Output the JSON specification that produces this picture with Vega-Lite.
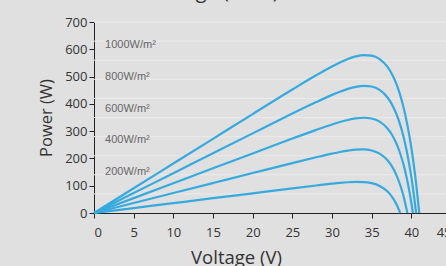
{
  "$schema": "https://vega.github.io/schema/vega-lite/v6.json",
  "width": 357,
  "height": 191,
  "autosize": {"type": "none"},
  "padding": {"left": 94, "top": 22, "right": 0, "bottom": 53},
  "background": "#e0e0e0",
  "title": {"text": "Power-Voltage (25°C)", "anchor": "start", "frame": "group", "dx": -11, "offset": 14, "font": "Open Sans", "fontSize": 20, "fontWeight": "normal", "color": "#333333"},
  "config": {
    "view": {"stroke": null},
    "axis": {
      "grid": false,
      "domainColor": "#222222",
      "tickColor": "#222222",
      "tickSize": 5,
      "labelFont": "Open Sans",
      "labelFontSize": 13,
      "labelColor": "#333333",
      "titleFont": "Open Sans",
      "titleFontWeight": "normal",
      "titleColor": "#333333"
    }
  },
  "datasets": {
    "grid": [{"p": 70}, {"p": 140}, {"p": 210}, {"p": 280}, {"p": 350}, {"p": 420}, {"p": 490}, {"p": 560}, {"p": 630}, {"p": 700}],
    "labels": [
      {"v": 1.4, "p": 615, "label": "1000W/m²"},
      {"v": 1.4, "p": 498, "label": "800W/m²"},
      {"v": 1.4, "p": 382, "label": "600W/m²"},
      {"v": 1.4, "p": 266, "label": "400W/m²"},
      {"v": 1.4, "p": 150, "label": "200W/m²"}
    ],
    "curves": [
      {"irr": 1000, "v": 0, "p": 0}, {"irr": 1000, "v": 5, "p": 90.7}, {"irr": 1000, "v": 10, "p": 181.3}, {"irr": 1000, "v": 15, "p": 271.9}, {"irr": 1000, "v": 20, "p": 362.5}, {"irr": 1000, "v": 25, "p": 452.5}, {"irr": 1000, "v": 28, "p": 504.8}, {"irr": 1000, "v": 30, "p": 537.2}, {"irr": 1000, "v": 31, "p": 551.7}, {"irr": 1000, "v": 32, "p": 564.3}, {"irr": 1000, "v": 33, "p": 573.9}, {"irr": 1000, "v": 34, "p": 578.9}, {"irr": 1000, "v": 35, "p": 577.0}, {"irr": 1000, "v": 36, "p": 564.3}, {"irr": 1000, "v": 37, "p": 535.4}, {"irr": 1000, "v": 37.5, "p": 512.2}, {"irr": 1000, "v": 38, "p": 481.4}, {"irr": 1000, "v": 38.5, "p": 441.2}, {"irr": 1000, "v": 39, "p": 389.4}, {"irr": 1000, "v": 39.5, "p": 323.1}, {"irr": 1000, "v": 40, "p": 239.1}, {"irr": 1000, "v": 40.5, "p": 133.1}, {"irr": 1000, "v": 41, "p": 0},
      {"irr": 800, "v": 0, "p": 0}, {"irr": 800, "v": 5, "p": 73.0}, {"irr": 800, "v": 10, "p": 145.9}, {"irr": 800, "v": 15, "p": 218.9}, {"irr": 800, "v": 20, "p": 291.8}, {"irr": 800, "v": 25, "p": 364.3}, {"irr": 800, "v": 28, "p": 406.6}, {"irr": 800, "v": 30, "p": 432.9}, {"irr": 800, "v": 31, "p": 444.7}, {"irr": 800, "v": 32, "p": 454.9}, {"irr": 800, "v": 33, "p": 462.5}, {"irr": 800, "v": 34, "p": 466.2}, {"irr": 800, "v": 35, "p": 463.5}, {"irr": 800, "v": 36, "p": 451.0}, {"irr": 800, "v": 37, "p": 423.2}, {"irr": 800, "v": 37.5, "p": 400.8}, {"irr": 800, "v": 38, "p": 371.0}, {"irr": 800, "v": 38.5, "p": 331.9}, {"irr": 800, "v": 39, "p": 281.0}, {"irr": 800, "v": 39.5, "p": 215.4}, {"irr": 800, "v": 40, "p": 131.4}, {"irr": 800, "v": 40.3, "p": 70.5}, {"irr": 800, "v": 40.6, "p": 0},
      {"irr": 600, "v": 0, "p": 0}, {"irr": 600, "v": 5, "p": 54.6}, {"irr": 600, "v": 10, "p": 109.2}, {"irr": 600, "v": 15, "p": 163.8}, {"irr": 600, "v": 20, "p": 218.4}, {"irr": 600, "v": 25, "p": 272.7}, {"irr": 600, "v": 28, "p": 304.6}, {"irr": 600, "v": 30, "p": 324.4}, {"irr": 600, "v": 31, "p": 333.3}, {"irr": 600, "v": 32, "p": 341.0}, {"irr": 600, "v": 33, "p": 346.7}, {"irr": 600, "v": 34, "p": 349.1}, {"irr": 600, "v": 35, "p": 346.3}, {"irr": 600, "v": 36, "p": 334.9}, {"irr": 600, "v": 37, "p": 309.7}, {"irr": 600, "v": 37.5, "p": 289.5}, {"irr": 600, "v": 38, "p": 262.3}, {"irr": 600, "v": 38.5, "p": 226.3}, {"irr": 600, "v": 39, "p": 179.1}, {"irr": 600, "v": 39.5, "p": 117.5}, {"irr": 600, "v": 39.9, "p": 55.4}, {"irr": 600, "v": 40.2, "p": 0},
      {"irr": 400, "v": 0, "p": 0}, {"irr": 400, "v": 5, "p": 36.6}, {"irr": 400, "v": 10, "p": 73.2}, {"irr": 400, "v": 15, "p": 109.8}, {"irr": 400, "v": 20, "p": 146.4}, {"irr": 400, "v": 25, "p": 182.9}, {"irr": 400, "v": 28, "p": 204.3}, {"irr": 400, "v": 30, "p": 217.7}, {"irr": 400, "v": 31, "p": 223.7}, {"irr": 400, "v": 32, "p": 228.7}, {"irr": 400, "v": 33, "p": 232.2}, {"irr": 400, "v": 34, "p": 233.0}, {"irr": 400, "v": 35, "p": 229.2}, {"irr": 400, "v": 36, "p": 217.7}, {"irr": 400, "v": 37, "p": 193.2}, {"irr": 400, "v": 37.5, "p": 173.5}, {"irr": 400, "v": 38, "p": 146.8}, {"irr": 400, "v": 38.5, "p": 110.9}, {"irr": 400, "v": 39, "p": 63.2}, {"irr": 400, "v": 39.5, "p": 0},
      {"irr": 200, "v": 0, "p": 0}, {"irr": 200, "v": 5, "p": 18.1}, {"irr": 200, "v": 10, "p": 36.1}, {"irr": 200, "v": 15, "p": 54.2}, {"irr": 200, "v": 20, "p": 72.2}, {"irr": 200, "v": 25, "p": 90.2}, {"irr": 200, "v": 28, "p": 100.8}, {"irr": 200, "v": 30, "p": 107.4}, {"irr": 200, "v": 31, "p": 110.3}, {"irr": 200, "v": 32, "p": 112.6}, {"irr": 200, "v": 33, "p": 113.8}, {"irr": 200, "v": 34, "p": 113.2}, {"irr": 200, "v": 35, "p": 109.3}, {"irr": 200, "v": 36, "p": 99.3}, {"irr": 200, "v": 37, "p": 78.7}, {"irr": 200, "v": 37.5, "p": 61.9}, {"irr": 200, "v": 38, "p": 38.9}, {"irr": 200, "v": 38.3, "p": 21.2}, {"irr": 200, "v": 38.6, "p": 0}
    ]
  },
  "layer": [
    {
      "data": {"name": "grid"},
      "mark": {"type": "rule", "color": "#ebebeb", "strokeWidth": 1},
      "encoding": {
        "y": {"field": "p", "type": "quantitative", "scale": {"domain": [0, 700], "nice": false}, "axis": {"values": [0, 100, 200, 300, 400, 500, 600, 700], "title": "Power (W)", "labelPadding": 2, "titlePadding": 10, "titleFontSize": 16.5}}
      }
    },
    {
      "data": {"name": "curves"},
      "mark": {"type": "line", "interpolate": "monotone", "color": "#36aadf", "strokeWidth": 2.2},
      "encoding": {
        "x": {"field": "v", "type": "quantitative", "scale": {"domain": [0, 45], "nice": false}, "axis": {"values": [0, 5, 10, 15, 20, 25, 30, 35, 40, 45], "title": "Voltage (V)", "labelPadding": 8, "titleX": 142, "titleY": 50, "titleBaseline": "alphabetic", "titleFontSize": 18.5}},
        "y": {"field": "p", "type": "quantitative", "scale": {"domain": [0, 700], "nice": false}, "axis": {"values": [0, 100, 200, 300, 400, 500, 600, 700], "title": "Power (W)", "labelPadding": 2, "titlePadding": 10, "titleFontSize": 16.5}},
        "detail": {"field": "irr", "type": "nominal"}
      }
    },
    {
      "data": {"name": "labels"},
      "mark": {"type": "text", "align": "left", "baseline": "middle", "font": "Liberation Sans", "fontSize": 11, "color": "#666666"},
      "encoding": {
        "x": {"field": "v", "type": "quantitative", "scale": {"domain": [0, 45], "nice": false}, "axis": {"values": [0, 5, 10, 15, 20, 25, 30, 35, 40, 45], "title": "Voltage (V)", "labelPadding": 8, "titleX": 142, "titleY": 50, "titleBaseline": "alphabetic", "titleFontSize": 18.5}},
        "y": {"field": "p", "type": "quantitative", "scale": {"domain": [0, 700], "nice": false}, "axis": {"values": [0, 100, 200, 300, 400, 500, 600, 700], "title": "Power (W)", "labelPadding": 2, "titlePadding": 10, "titleFontSize": 16.5}},
        "text": {"field": "label"}
      }
    }
  ]
}
